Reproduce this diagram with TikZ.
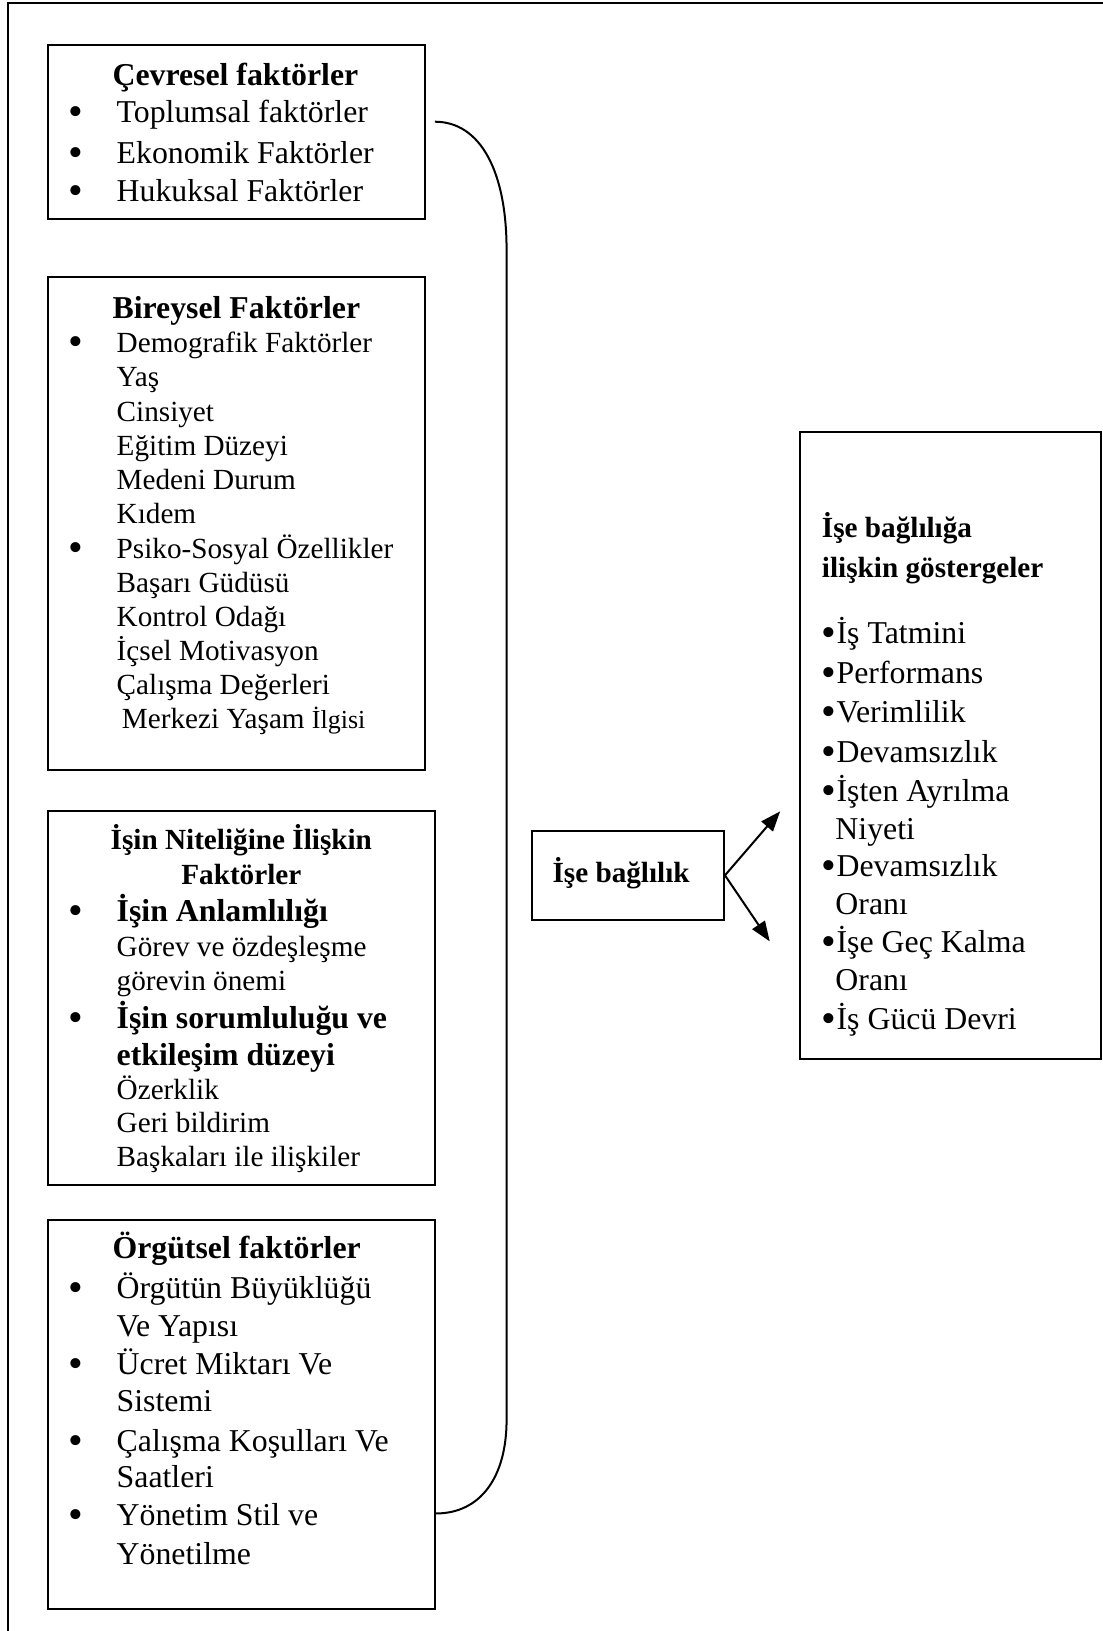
\documentclass[tikz,border=0pt]{standalone}
\usepackage{fontspec}
\setmainfont{Liberation Serif}
\usetikzlibrary{arrows.meta,fit}
\newcommand\szL{\fontsize{31.8}{38}\selectfont}
\newcommand\szM{\fontsize{29.2}{35}\selectfont}
\newcommand\szS{\fontsize{26}{31}\selectfont}
\newcommand\bigbul{\smash{\raisebox{-3pt}{\fontsize{42}{42}\selectfont •}}}
\begin{document}
\begin{tikzpicture}[x=1.04pt,y=-1.04pt,
  frame/.style={draw=black, line width=2.2pt},
  boxst/.style={draw=black, line width=2pt, inner sep=0pt},
  conn/.style={draw=black, line width=2pt},
  arr/.style={draw=black, line width=2pt, -{Triangle[length=20pt,width=15pt]}},
  lt/.style={anchor=base west, inner sep=0pt, font=\szL},
  mt/.style={anchor=base west, inner sep=0pt, font=\szM},
  lb/.style={anchor=base west, inner sep=0pt, font=\szL\bfseries},
  mb/.style={anchor=base west, inner sep=0pt, font=\szM\bfseries},
  bul/.style={anchor=base west, inner sep=0pt, font=\szL}]
\useasboundingbox (0,0) rectangle (1060,1568);
\coordinate (fb) at (8,1580);
\coordinate (ftl) at (8,3);
\coordinate (ftr) at (1070,3);
\draw[frame] (fb) -- (ftl) -- (ftr);

% boxes
\node[boxst, fit={(46,43) (409,211)}] (b1) {};
\node[boxst, fit={(46,266) (409,740)}] (b2) {};
\node[boxst, fit={(46,780) (418,1139)}] (b3) {};
\node[boxst, fit={(46,1173) (418,1547)}] (b4) {};
\node[boxst, fit={(511,799) (696,884)}] (b5) {};
\node[boxst, fit={(769,415) (1058,1018)}] (b6) {};

% box 1
\node[lb] (b1h) at (108,82) {Çevresel faktörler};
\foreach \y/\t [count=\i] in {118/Toplumsal faktörler, 157/Ekonomik Faktörler, 194/Hukuksal Faktörler}{
  \node[bul] (b1d\i) at (66,\y) {\bigbul};
  \node[lt] (b1t\i) at (112,\y) {\t};
}

% box 2
\node[lb] (b2h) at (108,306) {Bireysel Faktörler};
\foreach \y/\t [count=\i] in {339/Demografik Faktörler, 372/Yaş, 405/Cinsiyet, 438/Eğitim Düzeyi, 471/Medeni Durum, 503/Kıdem, 537/Psiko-Sosyal Özellikler, 570/Başarı Güdüsü, 602/Kontrol Odağı, 635/İçsel Motivasyon, 668/Çalışma Değerleri}{
  \node[mt] (b2t\i) at (112,\y) {\t};
}
\node[mt] (b2t12) at (117,700) {Merkezi Yaşam {\szS İlgisi}};
\node[bul] (b2d1) at (66,339) {\bigbul};
\node[bul] (b2d2) at (66,537) {\bigbul};

% box 3
\node[anchor=base, inner sep=0pt, font=\szM\bfseries] (b3h1) at (232,817) {İşin Niteliğine İlişkin};
\node[anchor=base, inner sep=0pt, font=\szM\bfseries] (b3h2) at (232,850) {Faktörler};
\node[bul] (b3d1) at (66,886) {\bigbul};
\node[lb] (b3a) at (112,886) {İşin Anlamlılığı};
\node[mt] (b3b) at (112,920) {Görev ve özdeşleşme};
\node[mt] (b3c) at (112,952) {görevin önemi};
\node[bul] (b3d2) at (66,989) {\bigbul};
\node[lb] (b3e) at (112,989) {İşin sorumluluğu ve};
\node[lb] (b3f) at (112,1024) {etkileşim düzeyi};
\node[mt] (b3g) at (112,1057) {Özerklik};
\node[mt] (b3h) at (112,1089) {Geri bildirim};
\node[mt] (b3i) at (112,1121) {Başkaları ile ilişkiler};

% box 4
\node[lb] (b4h) at (108,1210) {Örgütsel faktörler};
\foreach \y/\t [count=\i] in {1248/Örgütün Büyüklüğü, 1285/Ve Yapısı, 1321/Ücret Miktarı Ve, 1357/Sistemi, 1395/Çalışma Koşulları Ve, 1430/Saatleri, 1467/Yönetim Stil ve, 1504/Yönetilme}{
  \node[lt] (b4t\i) at (112,\y) {\t};
}
\foreach \y [count=\i] in {1248,1321,1395,1467}{
  \node[bul] (b4d\i) at (66,\y) {\bigbul};
}

% box 5
\node[mb] (b5t) at (531,848) {İşe bağlılık};

% box 6
\node[mb] (b6h1) at (790,517) {İşe bağlılığa};
\node[mb] (b6h2) at (790,555) {ilişkin göstergeler};
\foreach \x/\y/\t [count=\i] in {790/619/{\bigbul}İş Tatmini, 790/657/{\bigbul}Performans, 790/695/{\bigbul}Verimlilik, 790/733/{\bigbul}Devamsızlık, 790/771/{\bigbul}İşten Ayrılma, 803/807/Niyeti, 790/843/{\bigbul}Devamsızlık, 803/879/Oranı, 790/916/{\bigbul}İşe Geç Kalma, 803/952/Oranı, 790/990/{\bigbul}İş Gücü Devri}{
  \node[lt] (b6t\i) at (\x,\y) {\t};
}

% brace connector
\coordinate (bs) at (418,117);
\coordinate (be) at (419,1455);
\draw[conn] (bs) .. controls (462,117) and (487,165) .. (487,240) -- (487,1365) .. controls (487,1420) and (462,1455) .. (be);

% arrows
\coordinate (tipA) at (750,780);
\coordinate (tipB) at (740,905);
\draw[arr] (b5.east) -- (tipA);
\draw[arr] (b5.east) -- (tipB);
\end{tikzpicture}
\end{document}
